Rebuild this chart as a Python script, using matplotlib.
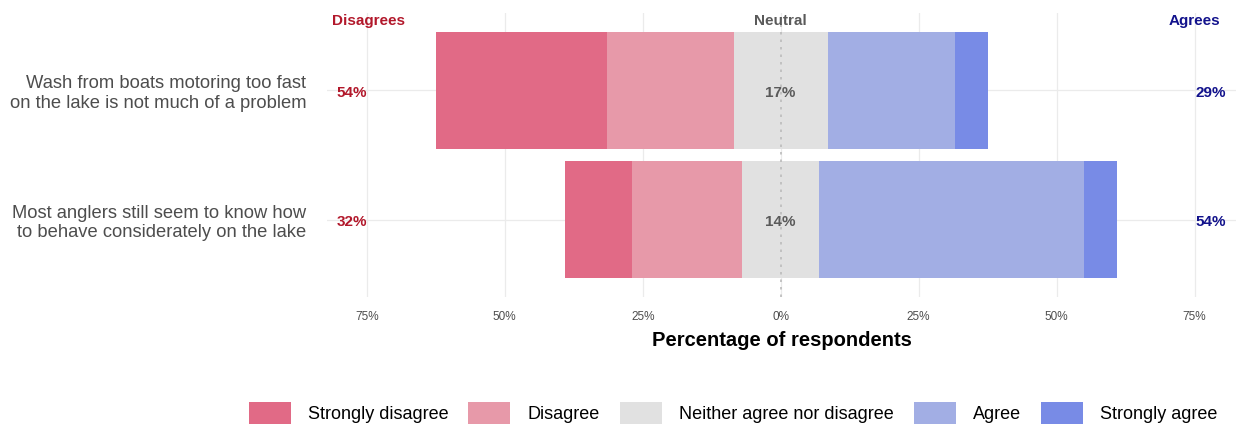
import matplotlib
matplotlib.use("Agg")
import matplotlib.pyplot as plt
import numpy as np
from matplotlib.patches import Patch

plt.rcParams['font.family'] = ['Liberation Sans', 'DejaVu Sans']

items = ["Wash from boats motoring too fast\non the lake is not much of a problem",
         "Most anglers still seem to know how\nto behave considerately on the lake"]
levels = ["Strongly disagree", "Disagree", "Neither agree nor disagree", "Agree", "Strongly agree"]
strongly_disagree = [31, 12]
disagree = [23, 20]
neutral = [17, 14]
agree = [23, 48]
strongly_agree = [6, 6]
disagree_total = ["54%", "32%"]
neutral_label = ["17%", "14%"]
agree_total = ["29%", "54%"]
tick_vals = [-75, -50, -25, 0, 25, 50, 75]
tick_labels = ["75%", "50%", "25%", "0%", "25%", "50%", "75%"]

colors = ["#E16A86", "#E799A9", "#E1E1E1", "#A2AEE4", "#788BE6"]
red = "#B2182B"
blue = "#12128C"
grey_txt = "#5A5A5A"

fig = plt.figure(figsize=(12.36, 4.25), dpi=100)
ax = fig.add_axes([327/1236, 1-297/425, 909/1236, 284/425])

ypos = [2, 1]
h = 0.9
for i, y in enumerate(ypos):
    sd, d, n, a, sa = strongly_disagree[i], disagree[i], neutral[i], agree[i], strongly_agree[i]
    left = -n/2
    ax.barh(y, n, left=left, height=h, color=colors[2], linewidth=0)
    ax.barh(y, d, left=left-d, height=h, color=colors[1], linewidth=0)
    ax.barh(y, sd, left=left-d-sd, height=h, color=colors[0], linewidth=0)
    ax.barh(y, a, left=n/2, height=h, color=colors[3], linewidth=0)
    ax.barh(y, sa, left=n/2+a, height=h, color=colors[4], linewidth=0)
    ax.text(-77.7, y-0.02, disagree_total[i], color=red, fontsize=11, fontweight='bold', ha='center', va='center')
    ax.text(77.9, y-0.02, agree_total[i], color=blue, fontsize=11, fontweight='bold', ha='center', va='center')
    ax.text(0, y-0.02, neutral_label[i], color=grey_txt, fontsize=11, fontweight='bold', ha='center', va='center')

ax.axvline(0, color="#BBBBBB", linestyle=(0, (1.5, 3)), linewidth=1.2, zorder=3)

ax.text(-81.3, 2.54, "Disagrees", color=red, fontsize=11, fontweight='bold', ha='left', va='center')
ax.text(0, 2.54, "Neutral", color=grey_txt, fontsize=11, fontweight='bold', ha='center', va='center')
ax.text(79.7, 2.54, "Agrees", color=blue, fontsize=11, fontweight='bold', ha='right', va='center')

ax.set_xlim(-82.2, 82.5)
ax.set_ylim(0.4, 2.6)
ax.set_xticks(tick_vals)
ax.set_xticklabels(tick_labels, fontsize=8.5, color="#4D4D4D")
ax.set_yticks(ypos)
ax.set_yticklabels(items, fontsize=13.2, color="#4D4D4D", linespacing=1.2)
ax.tick_params(axis='both', length=0)
ax.tick_params(axis='x', pad=10)
ax.tick_params(axis='y', pad=15)
ax.grid(True, color="#EBEBEB", linewidth=0.9)
ax.set_axisbelow(True)
for s in ax.spines.values():
    s.set_visible(False)
ax.set_xlabel("Percentage of respondents", fontsize=14.5, fontweight='bold', labelpad=6)

handles = [Patch(facecolor=c, edgecolor='none') for c in colors]
fig.legend(handles, levels, loc='center', bbox_to_anchor=(733/1236, 1-413/425), ncol=5,
           frameon=False, fontsize=13, handlelength=2.33, handleheight=1.45,
           columnspacing=1.1, handletextpad=0.95)

fig.savefig("out.png", dpi=100)
